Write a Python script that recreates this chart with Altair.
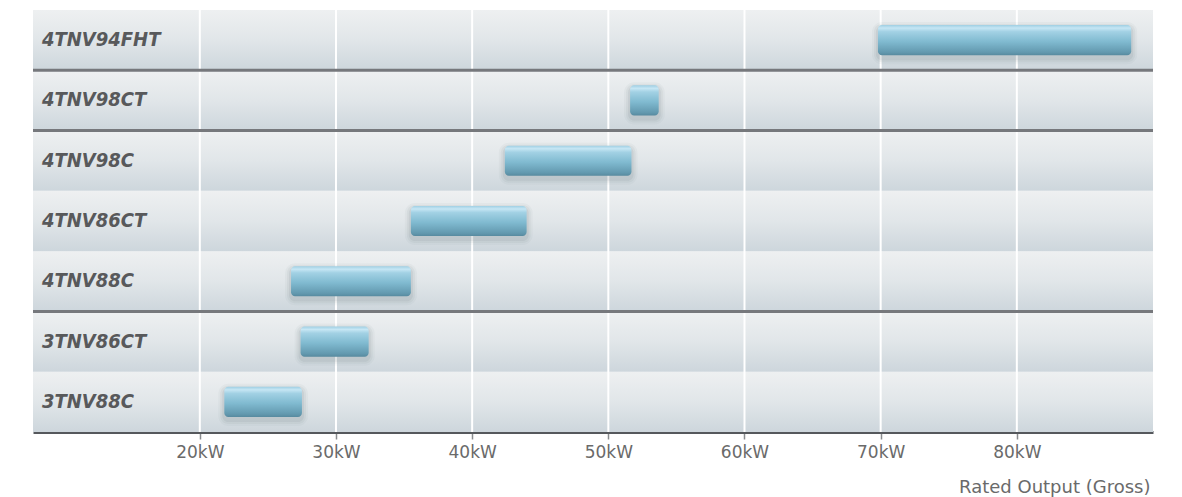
import altair as alt
import pandas as pd

# Engine models, listed bottom row first
models = ["3TNV88C", "3TNV86CT", "4TNV88C", "4TNV86CT", "4TNV98C", "4TNV98CT", "4TNV94FHT"]
kw_min = [21.8, 27.4, 26.7, 35.5, 42.4, 51.6, 69.8]
kw_max = [27.5, 32.4, 35.5, 44.0, 51.7, 53.7, 88.4]

# Axis ticks (kW) and the row boundaries that get a divider line
tick_values = [20, 30, 40, 50, 60, 70, 80]
divider_rows = [2, 5, 6]

W, H = 1120, 422
X_DOMAIN = [7.75, 90.0]

rows = pd.DataFrame({
    "model": models,
    "lo": kw_min,
    "hi": kw_max,
})
rows["row"] = range(len(models))
rows["row_top"] = rows["row"] + 1
rows["row_mid"] = rows["row"] + 0.5
rows["bar_lo"] = rows["row"] + 0.25
rows["bar_hi"] = rows["row"] + 0.75

ticks = pd.DataFrame({"kw": tick_values})
dividers = pd.DataFrame({"row": divider_rows})

x_scale = alt.Scale(domain=X_DOMAIN, nice=False, zero=False)
y_scale = alt.Scale(domain=[0, len(models)], nice=False, zero=False)

x_axis = alt.Axis(
    values=tick_values,
    labelExpr="datum.value + 'kW'",
    grid=False,
    domainColor="#55585c",
    domainWidth=3,
    tickColor="#8a8c8f",
    tickWidth=1.5,
    tickSize=7,
    labelColor="#6a6a6a",
    labelFont="DejaVu Sans",
    labelFontSize=17,
    labelPadding=5,
    title="Rated Output (Gross)",
    titleFont="DejaVu Sans",
    titleFontSize=18,
    titleFontWeight="normal",
    titleColor="#6a6a6a",
    titleAlign="right",
    titleBaseline="alphabetic",
    titleX=W - 3,
    titleY=60,
)

row_fill = alt.Gradient(
    gradient="linear",
    stops=[
        alt.GradientStop(color="#eef0f1", offset=0),
        alt.GradientStop(color="#e1e6e9", offset=0.5),
        alt.GradientStop(color="#cdd6dc", offset=1),
    ],
    x1=0, x2=0, y1=0, y2=1,
)

bar_fill = alt.Gradient(
    gradient="linear",
    stops=[
        alt.GradientStop(color="#9fcfe3", offset=0),
        alt.GradientStop(color="#c6e6f4", offset=0.1),
        alt.GradientStop(color="#a2d1e4", offset=0.22),
        alt.GradientStop(color="#80bad0", offset=0.55),
        alt.GradientStop(color="#6399af", offset=0.9),
        alt.GradientStop(color="#578a9f", offset=1),
    ],
    x1=0, x2=0, y1=0, y2=1,
)

base = alt.Chart(rows)

backgrounds = base.mark_rect(fill=row_fill).encode(
    x=alt.value(0),
    x2=alt.value(W),
    y=alt.Y("row:Q", scale=y_scale, axis=None),
    y2="row_top:Q",
)

gridlines = alt.Chart(ticks).mark_rule(color="#ffffff", strokeWidth=2).encode(
    x=alt.X("kw:Q", scale=x_scale, axis=x_axis),
)

separators = alt.Chart(dividers).mark_rule(color="#76787c", strokeWidth=3).encode(
    y=alt.Y("row:Q", scale=y_scale, axis=None),
)

# soft drop shadow around each bar, falling slightly downward
shadows = []
for spread, op in [(6, 0.035), (4, 0.05), (2, 0.07)]:
    shadows.append(
        base.mark_rect(
            color="#3c4a54",
            opacity=op,
            cornerRadius=4 + spread,
            xOffset=-spread,
            x2Offset=spread,
            yOffset=-spread + 3,
            y2Offset=spread + 3,
        ).encode(
            x=alt.X("lo:Q", scale=x_scale),
            x2="hi:Q",
            y=alt.Y("bar_hi:Q", scale=y_scale),
            y2="bar_lo:Q",
        )
    )

bars = base.mark_rect(fill=bar_fill, cornerRadius=4).encode(
    x=alt.X("lo:Q", scale=x_scale),
    x2="hi:Q",
    y=alt.Y("bar_hi:Q", scale=y_scale),
    y2="bar_lo:Q",
)

labels = base.mark_text(
    align="left",
    baseline="middle",
    font="DejaVu Sans Condensed",
    fontSize=20,
    fontWeight="bold",
    fontStyle="italic",
    color="#58595b",
).encode(
    x=alt.value(9),
    y=alt.Y("row_mid:Q", scale=y_scale),
    text="model:N",
)

chart = alt.layer(
    backgrounds, gridlines, separators, *shadows, bars, labels
).properties(
    width=W,
    height=H,
    autosize=alt.AutoSizeParams(type="none"),
    padding={"left": 33, "top": 10, "right": 29, "bottom": 65},
).configure_view(stroke=None)

chart.save("out.html", embed_options={"renderer": "svg", "actions": False})
